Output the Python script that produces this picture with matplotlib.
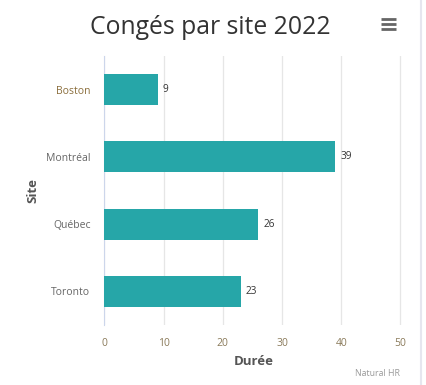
import matplotlib
matplotlib.use("Agg")
import matplotlib.pyplot as plt
from matplotlib.lines import Line2D

sites = ["Boston", "Montréal", "Québec", "Toronto"]
durees = [9, 39, 26, 23]
x_ticks = [0, 10, 20, 30, 40, 50]

plt.rcParams["font.family"] = ["Open Sans", "DejaVu Sans"]

fig = plt.figure(figsize=(4.27, 3.85), dpi=100)
ax = fig.add_axes([104.3 / 427, 0.1558, 0.6978, 0.6987])

y = list(range(len(sites)))
bars = ax.barh(y, durees, height=0.46, color="#26a6a8", zorder=3)
ax.set_ylim(len(sites) - 0.5, -0.5)
ax.set_xlim(0, 50.3)
ax.set_xticks(x_ticks)
ax.set_yticks(y)
ax.set_yticklabels(sites)

for b, v in zip(bars, durees):
    ax.annotate(str(v), (b.get_width(), b.get_y() + b.get_height() / 2),
                xytext=(3.6, 0), textcoords="offset points", va="center",
                fontsize=7.2, color="#333333")

ax.grid(axis="x", color="#e6e6e6", linewidth=0.9, zorder=0)
for s in ["top", "right", "bottom"]:
    ax.spines[s].set_visible(False)
ax.spines["left"].set_color("#ccd6eb")
ax.tick_params(axis="both", length=0, labelsize=7.5, colors="#666666")
ax.tick_params(axis="y", pad=10)
ax.tick_params(axis="x", pad=9)
for lbl in ax.get_yticklabels():
    lbl.set_color("#666666")
ax.get_yticklabels()[0].set_color("#8a6d3b")
for lbl in ax.get_xticklabels():
    lbl.set_color("#8a7a5a")

ax.set_xlabel("Durée", fontsize=9.5, fontweight="bold", color="#555555", labelpad=5)
ax.set_ylabel("Site", fontsize=9.5, fontweight="bold", color="#555555", labelpad=4.5)

fig.text(210 / 427, 1 - 27 / 385, "Congés par site 2022", ha="center", va="center",
         fontsize=17.8, color="#333333")
fig.text(400 / 427, 1 - 373 / 385, "Natural HR", ha="right", va="center",
         fontsize=6.3, color="#999999")

# menu icon
for py in [19.3, 24.3, 29.3]:
    fig.add_artist(Line2D([381 / 427, 396 / 427], [1 - py / 385, 1 - py / 385],
                          color="#666666", linewidth=2.0, solid_capstyle="butt"))
# container border on the right
fig.add_artist(Line2D([421.5 / 427, 421.5 / 427], [0, 1], color="#e6e6ef", linewidth=1.5))

fig.savefig("out.png", dpi=100)
